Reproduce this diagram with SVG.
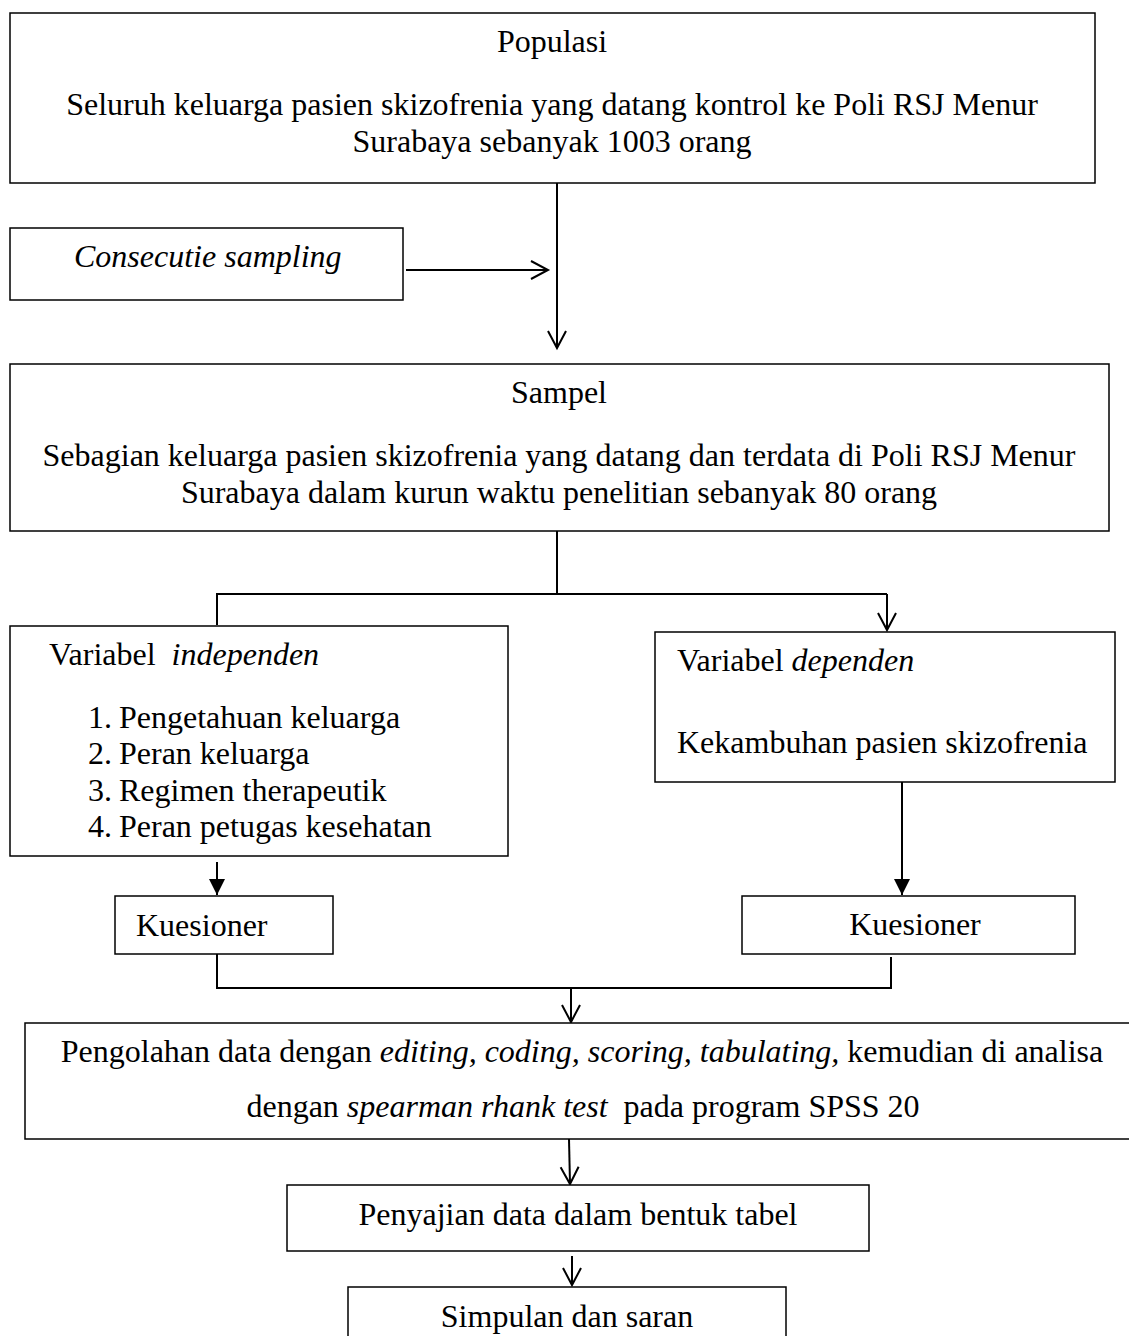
<svg xmlns="http://www.w3.org/2000/svg" width="1129" height="1336" viewBox="0 0 1129 1336">
<style>
.box{fill:#fff;stroke:#000;stroke-width:1.5}
.t{font-family:"Liberation Serif","Times New Roman",serif;font-size:32px;fill:#000}
.c{text-anchor:middle}
.i{font-style:italic}
.ln{fill:none;stroke:#000;stroke-width:2}
</style>
<defs>
<marker id="open" markerUnits="userSpaceOnUse" markerWidth="24" markerHeight="24" viewBox="-20 -12 24 24" refX="0" refY="0" orient="auto">
<path d="M-17,-9 L0,0 L-17,9" fill="none" stroke="#000" stroke-width="2"/>
</marker>
<marker id="fill" markerUnits="userSpaceOnUse" markerWidth="20" markerHeight="20" viewBox="-18 -10 20 20" refX="0" refY="0" orient="auto">
<path d="M-16,-8 L0,0 L-16,8 Z" fill="#000"/>
</marker>
</defs>
<rect width="1129" height="1336" fill="#fff"/>
<g id="connectors">
<line class="ln" x1="557" y1="183" x2="557" y2="348" marker-end="url(#open)"/>
<line class="ln" x1="406" y1="270" x2="548" y2="270" marker-end="url(#open)"/>
<polyline class="ln" points="557,531 557,594"/>
<polyline class="ln" points="217,625 217,594 887,594"/>
<line class="ln" x1="887" y1="594" x2="887" y2="630" marker-end="url(#open)"/>
<line class="ln" x1="217" y1="862" x2="217" y2="895" marker-end="url(#fill)"/>
<line class="ln" x1="902" y1="782" x2="902" y2="895" marker-end="url(#fill)"/>
<polyline class="ln" points="217,954 217,988 891,988 891,957"/>
<line class="ln" x1="571" y1="988" x2="571" y2="1022" marker-end="url(#open)"/>
<line class="ln" x1="569" y1="1139" x2="570" y2="1184" marker-end="url(#open)"/>
<line class="ln" x1="572" y1="1256" x2="572" y2="1285" marker-end="url(#open)"/>
</g>
<g id="populasi">
<rect class="box" x="10" y="13" width="1085" height="170"/>
<text class="t c" x="552" y="52">Populasi</text>
<text class="t c" x="552" y="115">Seluruh keluarga pasien skizofrenia yang datang kontrol ke Poli RSJ Menur</text>
<text class="t c" x="552" y="152">Surabaya sebanyak 1003 orang</text>
</g>
<g id="sampling">
<rect class="box" x="10" y="228" width="393" height="72"/>
<text class="t i" x="74" y="267">Consecutie sampling</text>
</g>
<g id="sampel">
<rect class="box" x="10" y="364" width="1099" height="167"/>
<text class="t c" x="559" y="403">Sampel</text>
<text class="t c" x="559" y="466">Sebagian keluarga pasien skizofrenia yang datang dan terdata di Poli RSJ Menur</text>
<text class="t c" x="559" y="503">Surabaya dalam kurun waktu penelitian sebanyak 80 orang</text>
</g>
<g id="independen">
<rect class="box" x="10" y="626" width="498" height="230"/>
<text class="t" x="49" y="665" xml:space="preserve">Variabel  <tspan class="i">independen</tspan></text>
<text class="t" x="88" y="728">1.<tspan x="119">Pengetahuan keluarga</tspan></text>
<text class="t" x="88" y="764">2.<tspan x="119">Peran keluarga</tspan></text>
<text class="t" x="88" y="801">3.<tspan x="119">Regimen therapeutik</tspan></text>
<text class="t" x="88" y="837">4.<tspan x="119">Peran petugas kesehatan</tspan></text>
</g>
<g id="dependen">
<rect class="box" x="655" y="632" width="460" height="150"/>
<text class="t" x="677" y="671">Variabel <tspan class="i">dependen</tspan></text>
<text class="t" x="677" y="753">Kekambuhan pasien skizofrenia</text>
</g>
<g id="kuesioner1">
<rect class="box" x="115" y="896" width="218" height="58"/>
<text class="t" x="136" y="936">Kuesioner</text>
</g>
<g id="kuesioner2">
<rect class="box" x="742" y="896" width="333" height="58"/>
<text class="t c" x="915" y="935">Kuesioner</text>
</g>
<g id="pengolahan">
<rect class="box" x="25" y="1023" width="1120" height="116"/>
<text class="t c" x="582" y="1062">Pengolahan data dengan <tspan class="i">editing, coding, scoring, tabulating,</tspan> kemudian di analisa</text>
<text class="t c" x="583" y="1117" xml:space="preserve">dengan <tspan class="i">spearman rhank test</tspan>  pada program SPSS 20</text>
</g>
<g id="penyajian">
<rect class="box" x="287" y="1185" width="582" height="66"/>
<text class="t c" x="578" y="1225">Penyajian data dalam bentuk tabel</text>
</g>
<g id="simpulan">
<rect class="box" x="348" y="1287" width="438" height="60"/>
<text class="t c" x="567" y="1327">Simpulan dan saran</text>
</g>
</svg>
